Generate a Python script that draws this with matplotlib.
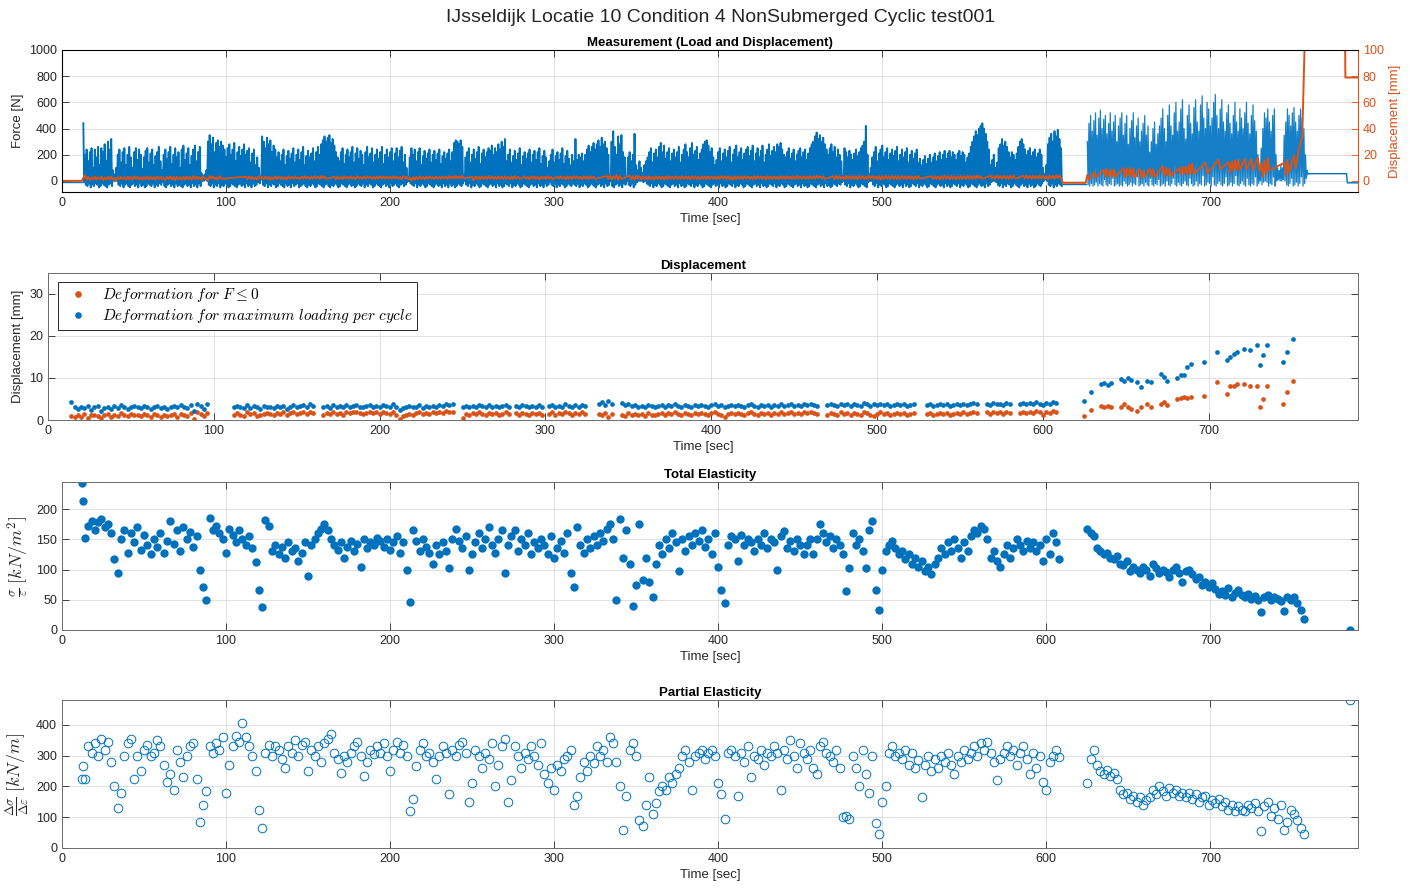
import numpy as np
import matplotlib
matplotlib.use('Agg')
import matplotlib.pyplot as plt

plt.rcParams['font.family'] = ['Liberation Sans', 'DejaVu Sans']
plt.rcParams['mathtext.fontset'] = 'cm'

BLUE = '#0072BD'
ORANGE = '#D95319'
nan = float('nan')

# ---- load signal, one cycle per second: peak and trough force [daN] ----
# part 1: t = 13 ... 609 s
force_peaks_1 = [
    44, 20, 24, 15, 22, 25, 10, 24, 18, 26, 12, 25, 22, 28, 15, 30, 24, 32, 8, 5,
    10, 20, 24, 14, 22, 25, 12, 20, 26, 18, 10, 22, 25, 16, 24, 20, 9, 18, 23, 25,
    14, 21, 24, 12, 19, 22, 26, 15, 8, 20, 24, 17, 22, 26, 13, 20, 25, 18, 22, 10,
    24, 27, 16, 21, 25, 12, 19, 24, 27, 15, 22, 26, 6, 4, 5, 8, 30, 35, 28, 33,
    22, 29, 31, 26, 30, 27, 24, 18, 25, 28, 20, 24, 29, 15, 22, 26, 19, 24, 28, 20,
    23, 25, 14, 21, 24, 12, 18, 10, 3, 34, 30, 25, 33, 28, 31, 22, 27, 24, 18, 22,
    15, 20, 24, 12, 19, 23, 17, 21, 25, 14, 20, 24, 16, 22, 26, 12, 19, 23, 18, 21,
    25, 15, 22, 26, 20, 28, 31, 34, 30, 33, 35, 29, 32, 27, 22, 18, 15, 22, 25, 13,
    20, 24, 18, 22, 26, 14, 21, 25, 17, 23, 20, 12, 22, 26, 18, 21, 25, 14, 20, 24,
    17, 22, 26, 13, 20, 24, 18, 22, 25, 15, 21, 25, 18, 23, 26, 14, 20, 10, 3, 18,
    25, 20, 24, 15, 22, 25, 12, 19, 23, 17, 21, 24, 14, 20, 23, 16, 21, 24, 13, 19,
    22, 17, 21, 24, 15, 22, 29, 31, 30, 28, 31, 26, 4, 18, 22, 25, 14, 20, 24, 17,
    22, 26, 13, 21, 24, 18, 22, 25, 23, 27, 20, 25, 22, 28, 24, 30, 26, 32, 15, 20,
    24, 14, 19, 23, 16, 21, 25, 12, 19, 22, 17, 21, 24, 14, 20, 23, 16, 22, 25, 13,
    19, 23, 18, 10, 15, 20, 24, 14, 19, 22, 16, 21, 25, 13, 19, 23, 17, 12, 20, 15,
    32, 16, 20, 18, 21, 15, 20, 24, 27, 22, 26, 29, 24, 28, 31, 26, 33, 28, 30, 25,
    20, 4, 30, 38, 26, 20, 34, 28, 35, 22, 18, 3, 18, 22, 15, 20, 36, 12, 8, 15,
    10, 6, 12, 15, 18, 22, 25, 14, 21, 24, 18, 26, 29, 22, 27, 17, 22, 25, 15, 21,
    24, 18, 22, 26, 14, 20, 24, 28, 22, 18, 25, 29, 20, 23, 26, 16, 21, 24, 28, 30,
    31, 27, 22, 25, 18, 12, 16, 22, 25, 15, 21, 24, 18, 23, 26, 14, 20, 24, 27, 18,
    22, 25, 16, 21, 24, 26, 19, 23, 27, 15, 21, 25, 18, 23, 27, 14, 20, 24, 28, 19,
    23, 26, 22, 28, 26, 29, 24, 20, 18, 22, 25, 17, 21, 24, 15, 20, 23, 25, 18, 22,
    24, 16, 21, 25, 28, 30, 34, 37, 32, 35, 30, 33, 28, 24, 20, 25, 28, 22, 26, 18,
    24, 20, 15, 4, 25, 22, 18, 23, 20, 16, 21, 24, 19, 22, 25, 27, 30, 42, 20, 5,
    10, 18, 22, 26, 15, 21, 24, 27, 18, 22, 25, 16, 21, 24, 19, 23, 26, 15, 20, 24,
    18, 22, 25, 14, 20, 23, 17, 21, 24, 14, 17, 12, 16, 19, 13, 17, 20, 14, 18, 21,
    15, 19, 22, 16, 20, 23, 17, 21, 23, 18, 22, 20, 16, 21, 23, 19, 22, 20, 14, 18,
    21, 26, 30, 34, 38, 35, 40, 42, 44, 40, 36, 30, 24, 12, 16, 20, 10, 14, 25, 28,
    32, 27, 30, 26, 22, 18, 22, 20, 16, 21, 26, 30, 32, 28, 24, 20, 23, 25, 19, 22,
    24, 18, 21, 24, 20, 10, 5, 12, 28, 33, 36, 30, 38, 34, 39, 32, 25,
]
force_troughs_1 = [
    -1, -3, -4, -2, -5, -3, -4, -2, -3, -5, -4, -2, -3, -4, -5, -3, -2, -4, 0, 0,
    0, -3, -4, -2, -5, -3, -2, -4, -5, -3, -2, -4, -3, -5, -2, -4, -3, -5, -4, -2,
    -3, -4, -2, -5, -3, -4, -2, -3, -1, -4, -5, -3, -2, -4, -3, -5, -2, -4, -3, -4,
    -5, -3, -2, -4, -3, -5, -2, -4, -3, -5, -2, -4, 0, 0, 1, 0, -3, -4, -2, -5,
    -3, -4, -2, -5, -3, -4, -2, -3, -5, -4, -2, -3, -4, -5, -3, -2, -4, -3, -5, -2,
    -4, -3, -5, -2, -4, -3, -1, -2, 1, -3, -4, -2, -5, -3, -4, -2, -3, -5, -4, -2,
    -3, -4, -5, -2, -4, -3, -5, -2, -4, -3, -2, -5, -4, -3, -2, -4, -5, -3, -4, -2,
    -3, -5, -4, -2, -3, -4, -5, -3, -2, -4, -5, -3, -4, -2, -3, -5, -4, -2, -3, -4,
    -5, -3, -2, -4, -3, -5, -4, -2, -3, -4, -2, -5, -3, -4, -2, -3, -5, -4, -2, -3,
    -4, -5, -3, -2, -4, -3, -5, -2, -4, -3, -2, -4, -5, -3, -2, -4, -3, -1, 0, -2,
    -3, -4, -2, -5, -3, -4, -2, -3, -5, -4, -2, -3, -4, -5, -3, -2, -4, -3, -5, -2,
    -4, -3, -5, -2, -4, -3, -5, -4, -2, -3, -4, -2, 0, -3, -4, -2, -5, -3, -4, -2,
    -3, -5, -4, -2, -3, -4, -5, -3, -2, -4, -3, -5, -2, -4, -3, -5, -4, -2, -3, -4,
    -2, -5, -3, -4, -2, -3, -5, -4, -2, -3, -4, -5, -3, -2, -4, -3, -5, -2, -4, -3,
    -5, -2, -4, -3, -1, -3, -4, -2, -5, -3, -4, -2, -3, -5, -4, -2, -3, -4, -2, -3,
    -4, -2, -5, -3, -4, -2, -3, -5, -4, -2, -3, -4, -5, -3, -2, -4, -3, -5, -2, -4,
    -3, 0, -4, -5, -3, -2, -4, -3, -5, -2, -3, 0, -3, -4, -2, -5, -3, -1, 0, 0,
    0, -1, 0, -2, -3, -4, -2, -5, -3, -4, -2, -3, -5, -4, -2, -3, -4, -5, -3, -2,
    -4, -3, -5, -2, -4, -3, -5, -4, -2, -3, -4, -2, -5, -3, -4, -2, -3, -5, -4, -2,
    -3, -4, -5, -3, -2, -4, -3, -5, -2, -4, -3, -5, -4, -2, -3, -4, -2, -5, -3, -4,
    -2, -3, -5, -4, -2, -3, -4, -5, -3, -2, -4, -3, -5, -2, -4, -3, -5, -4, -2, -3,
    -4, -2, -5, -3, -4, -2, -3, -5, -4, -2, -3, -4, -5, -3, -2, -4, -3, -5, -2, -4,
    -3, -5, -4, -2, -3, -4, -5, -3, -2, -4, -3, -5, -2, -4, -3, -5, -4, -2, -3, -4,
    -2, -3, -1, 0, -3, -4, -2, -5, -3, -4, -2, -3, -5, -4, -2, -3, -4, -5, -1, 0,
    0, -3, -4, -2, -5, -3, -4, -2, -3, -5, -4, -2, -3, -4, -5, -3, -2, -4, -3, -5,
    -2, -4, -3, -5, -4, -2, -3, -4, -2, -5, -3, -4, -2, -3, -5, -4, -2, -3, -4, -5,
    -3, -2, -4, -3, -5, -2, -4, -3, -5, -4, -2, -3, -4, -2, -5, -3, -4, -2, -3, -5,
    -4, -2, -3, -4, -5, -3, -2, -4, -3, -5, -2, -4, -3, -1, 0, 0, -1, -3, -4, -2,
    -5, -3, -4, -2, -3, -5, -4, -2, -3, -4, -5, -3, -2, -4, -3, -5, -2, -4, -3, -5,
    -4, -2, -3, -4, -2, 0, 1, 0, -3, -4, -2, -5, -3, -4, -2, -3, -4,
]
# part 2: t = 625 ... 759 s
force_peaks_2 = [
    30, 44, 50, 38, 46, 52, 35, 48, 54, 40, 47, 50, 36, 44, 52, 38, 45, 50, 30, 42,
    48, 52, 35, 44, 50, 28, 40, 46, 52, 33, 42, 48, 30, 38, 44, 50, 35, 42, 22, 30,
    40, 45, 28, 36, 42, 48, 55, 40, 30, 50, 58, 42, 35, 52, 60, 38, 45, 55, 62, 40,
    32, 50, 58, 44, 36, 56, 62, 45, 38, 58, 65, 48, 40, 60, 55, 42, 48, 60, 66, 50,
    40, 55, 62, 45, 38, 52, 58, 44, 36, 50, 60, 45, 38, 55, 48, 40, 52, 60, 44, 36,
    50, 58, 46, 38, 20, 12, 25, 40, 52, 48, 55, 45, 38, 50, 55, 20, 10, 8, 12, 10,
    35, 45, 55, 50, 42, 52, 56, 45, 38, 50, 55, 48, 40, 20, 8,
]
force_troughs_2 = [
    -3, -4, -2, -4, -3, -1, -4, -2, -3, -4, 1, -3, -4, -2, -3, 2, -4, -3, -2, -4,
    -3, -4, 0, -2, -4, -3, -1, -4, -2, -3, 3, -4, -3, -2, -4, -1, -3, -4, 2, -3,
    -4, -2, -3, 1, -4, -3, -2, -4, 0, -3, -4, -2, 2, -3, -4, -1, -3, -4, -2, 0,
    -3, -4, 2, -2, -4, -3, 0, -4, -2, -3, 4, -4, -3, -1, -2, -4, 3, -3, -4, -2,
    0, -3, -4, -2, 3, -4, -3, -1, -4, -2, 4, -3, -4, -2, 0, -3, -4, 2, -3, -4,
    -2, -3, 3, -4, -2, 0, -3, -1, 0, -1, -4, -2, -3, 3, -4, 0, 1, 0, 0, 1,
    0, -3, -4, -2, 2, -4, -3, -1, -4, -2, 3, -4, -2, 2, 5,
]
# idle stretches of the force signal (time [s], force [N])
idle_t = [0, 12.8, 610, 624.5, 760, 783, 783.5, 790]
idle_f = [-10, -10, -25, -25, 55, 55, -15, -15]
# displacement outside the cycles (time [s], displacement [mm])
disp_extra_t = [0, 12, 610, 624, 754, 756, 758, 782, 782.3, 790]
disp_extra_v = [0, 0, -1.5, -1.5, 25, 33, 130, 130, 79, 79]

# ---- per-cycle results ----
cycle_t = np.concatenate([[12, 13], np.arange(14, 609, 2), np.arange(625, 758, 2), [785]])

defo_max = [
    nan, nan,
    4.4, 3.0, 2.6, 3.2, 2.8, 3.4, 2.5, 3.0, 3.3, 2.2,
    2.8, 3.1, 2.6, 3.3, 2.9, 3.5, 3.0, 2.7, 3.2, 3.4,
    3.0, 2.8, 3.3, 3.1, 2.6, 3.2, 3.4, 2.9, 3.1, 2.7,
    3.2, 3.4, 3.0, 3.6, 3.2, 2.8, 3.5, 2.2, 3.8, 3.4,
    2.6, 3.8, nan, nan, nan, nan, nan, nan, nan, 3.2,
    3.4, 3.0, 2.8, 3.6, 2.9, 3.3, 3.1, 2.7, 3.4, 3.2,
    3.0, 2.8, 3.4, 3.1, 3.3, 2.7, 3.2, 3.5, 3.0, 3.3,
    3.6, 3.2, 3.8, 3.4, nan, nan, 3.0, 3.3, 2.9, 3.5,
    3.2, 3.4, 3.0, 3.6, 3.1, 3.3, 3.5, 3.2, 3.0, 3.4,
    3.6, 3.2, 3.4, 3.1, 3.5, 3.3, 3.0, 3.8, 3.2, 2.5,
    2.8, 3.1, 3.4, 3.0, 3.2, 3.5, 2.9, 3.3, 3.1, 3.4,
    3.2, 3.6, 3.4, 3.8, 3.5, 3.9, nan, nan, 3.0, 3.3,
    3.1, 3.4, 3.2, 3.6, 3.3, 3.0, 3.5, 3.2, 3.4, 3.1,
    3.3, 3.6, 3.2, nan, 3.4, 3.1, 3.5, 3.3, 3.0, 3.4,
    3.2, 3.5, 3.1, nan, 3.3, 3.6, 3.0, 3.4, 3.2, 3.7,
    3.4, 3.1, 3.5, 3.2, 3.6, 3.3, nan, nan, nan, 3.8,
    4.2, 3.5, 4.5, 3.8, nan, nan, 4.0, 3.6, 3.9, 3.4,
    3.6, 3.2, 3.4, 3.0, 3.5, 3.3, 3.1, 3.4, 3.6, 3.2,
    3.5, 3.3, 3.7, 3.4, 3.2, 3.6, 3.4, 3.1, 3.5, 3.3,
    3.6, 3.4, 3.2, 3.5, 3.8, 3.3, 3.6, 3.1, 3.4, 3.5,
    3.3, 3.6, 3.4, 3.2, 3.5, 3.7, 3.4, 3.2, 3.6, 3.3,
    3.5, 3.2, 3.6, 3.4, 3.7, 3.3, 3.5, 3.8, 3.4, 3.6,
    3.3, 3.7, 3.5, 3.9, 3.6, 3.4, nan, nan, 3.5, 3.8,
    3.6, 3.3, 3.9, 3.5, 3.7, 3.4, 3.8, 3.6, 3.3, 4.0,
    3.7, 3.4, 3.8, 3.6, 3.9, 3.5, 3.7, 3.4, 3.6, 3.8,
    3.5, 3.7, 3.4, 3.6, 3.8, nan, nan, nan, 3.5, 3.7,
    3.4, 3.6, 3.8, 3.5, 3.7, 3.3, 3.6, 3.8, 3.5, 3.9,
    3.6, 3.8, 4.0, 3.7, nan, nan, 3.9, 3.6, 4.1, 3.7,
    3.9, 3.6, 4.0, 3.8, nan, nan, 3.8, 4.1, 3.7, 4.0,
    3.8, 4.2, 3.9, 3.6, 4.1, 3.8, 4.4, 4.0,
    4.6, nan, 6.6, nan, nan, 8.6, 8.8, 8.4, 8.8, nan,
    nan, 9.8, 9.4, 10.0, 9.6, nan, 9.0, 7.8, nan, 9.4,
    9.0, nan, nan, 11.0, 10.2, 9.2, nan, nan, 10.0, 10.6,
    10.8, 12.6, 13.4, nan, nan, nan, 13.8, nan, nan, nan,
    16.2, nan, nan, 14.2, 15.0, 15.8, 16.2, nan, 17.0, nan,
    16.6, nan, 17.8, 13.0, 15.4, 17.8, nan, nan, nan, nan,
    13.8, 16.2, nan, 19.4, nan, nan, nan,
    nan,
]

defo_zero = [
    nan, nan,
    1.0, 0.6, 1.2, 0.8, 1.4, 0.5, 1.1, 1.3, 0.9, 0.4,
    1.2, 1.5, 0.8, 1.3, 1.0, 1.6, 1.2, 0.9, 1.4, 1.1,
    1.3, 0.9, 1.5, 1.2, 0.7, 1.4, 1.1, 0.6, 1.2, 0.9,
    1.1, 1.4, 0.8, 1.5, 1.2, 0.9, 1.6, 0.2, 1.8, 1.4,
    1.0, 1.6, nan, nan, nan, nan, nan, nan, nan, 1.2,
    1.6, 1.3, 1.0, 1.8, 1.4, 1.6, 0.9, 1.2, 1.5, 1.7,
    1.4, 1.2, 1.7, 1.5, 1.8, 1.3, 1.6, 1.9, 1.4, 1.7,
    1.9, 1.5, 2.0, 1.7, nan, nan, 1.2, 1.6, 1.4, 1.8,
    1.5, 1.7, 1.3, 1.9, 1.6, 1.8, 2.0, 1.6, 1.4, 1.7,
    1.9, 1.6, 1.8, 1.5, 1.9, 1.7, 1.4, 2.0, 1.2, 0.3,
    0.9, 1.2, 1.5, 1.3, 1.6, 1.8, 1.4, 1.7, 1.5, 1.8,
    1.6, 1.9, 1.7, 2.1, 1.8, 2.0, nan, nan, 0.5, 1.4,
    1.2, 1.6, 1.4, 1.8, 1.5, 1.2, 1.7, 1.4, 1.6, 1.3,
    1.5, 1.8, 1.4, nan, 1.6, 1.2, 1.7, 1.5, 1.1, 1.6,
    1.4, 1.7, 1.3, nan, 1.5, 1.8, 1.2, 1.6, 1.4, 1.9,
    1.6, 1.3, 1.7, 1.4, 1.8, 1.5, nan, nan, nan, 1.4,
    1.2, 1.7, 0.8, 1.5, nan, nan, 1.3, 0.9, 1.6, 1.2,
    1.5, 1.1, 1.4, 1.0, 1.6, 1.3, 1.1, 1.5, 1.7, 1.3,
    1.6, 1.4, 1.8, 1.5, 1.3, 1.7, 1.5, 1.2, 1.6, 1.4,
    1.7, 1.5, 1.3, 1.6, 1.9, 1.4, 1.2, 0.8, 1.5, 1.6,
    1.4, 1.7, 1.5, 1.3, 1.6, 1.8, 1.5, 1.3, 1.7, 1.4,
    1.6, 1.3, 1.7, 1.5, 1.8, 1.4, 1.6, 1.9, 1.5, 1.7,
    1.4, 1.8, 1.6, 2.0, 1.7, 1.5, nan, nan, 1.2, 1.7,
    1.5, 1.2, 1.8, 1.4, 1.6, 1.3, 1.7, 1.5, 1.2, 1.9,
    1.6, 1.3, 0.9, 1.5, 1.8, 1.4, 1.6, 1.3, 1.5, 1.7,
    1.4, 1.6, 1.3, 1.5, 1.7, nan, nan, nan, 1.4, 1.6,
    1.3, 1.5, 1.7, 1.4, 1.6, 1.2, 1.5, 1.7, 1.4, 1.8,
    1.5, 1.7, 1.9, 1.6, nan, nan, 1.8, 1.5, 2.0, 1.6,
    1.8, 1.5, 1.9, 1.7, nan, nan, 1.7, 2.0, 1.6, 1.9,
    1.7, 2.1, 1.8, 1.3, 2.0, 1.7, 2.2, 1.9,
    1.0, nan, 2.4, nan, nan, 3.4, 3.2, 3.4, 3.0, nan,
    nan, 3.0, 3.8, 3.2, 2.6, nan, 2.2, 3.0, nan, 3.8,
    3.0, nan, nan, 3.8, 4.2, 3.6, nan, nan, 5.0, 5.2,
    5.4, 5.2, 5.4, nan, nan, nan, 5.6, nan, nan, nan,
    9.0, nan, nan, 6.2, 8.2, 8.0, 8.6, nan, 8.6, nan,
    8.0, nan, 8.0, 3.0, 5.0, 8.0, nan, nan, nan, nan,
    3.8, 6.6, nan, 9.4, nan, nan, nan,
    nan,
]

elast_total = [
    244, 214,
    152, 172, 180, 165, 178, 183, 170, 176, 160, 118,
    95, 150, 165, 128, 160, 145, 170, 132, 158, 140,
    125, 150, 138, 160, 128, 148, 180, 142, 165, 130,
    170, 150, 162, 138, 155, 100, 72, 50, 185, 165,
    172, 160, 150, 128, 168, 158, 145, 165, 150, 140,
    155, 135, 112, 66, 38, 182, 172, 130, 140, 125,
    138, 120, 145, 130, 135, 114, 128, 145, 90, 140,
    150, 160, 168, 175, 165, 150, 140, 132, 145, 120,
    138, 148, 130, 142, 104, 150, 135, 145, 140, 152,
    148, 138, 150, 132, 145, 155, 128, 145, 100, 47,
    165, 148, 130, 150, 138, 128, 110, 140, 125, 145,
    130, 102, 150, 168, 148, 135, 155, 100, 125, 145,
    160, 135, 150, 170, 140, 128, 150, 165, 95, 140,
    155, 165, 130, 150, 140, 160, 125, 145, 135, 150,
    140, 125, 155, 120, 135, 148, 128, 160, 94, 72,
    170, 140, 128, 150, 135, 155, 140, 160, 148, 168,
    175, 150, 50, 183, 120, 165, 110, 40, 75, 175,
    82, 120, 80, 55, 110, 140, 125, 150, 135, 160,
    145, 97, 150, 130, 155, 140, 160, 148, 165, 138,
    150, 125, 160, 105, 67, 44, 140, 155, 150, 115,
    158, 140, 150, 145, 130, 150, 140, 160, 135, 150,
    145, 100, 155, 164, 135, 148, 130, 150, 140, 125,
    140, 150, 125, 150, 175, 160, 145, 155, 135, 150,
    140, 125, 64, 103, 161, 140, 150, 130, 103, 165,
    180, 67, 33, 100, 130, 140, 147, 135, 125, 130,
    118, 125, 110, 120, 105, 115, 98, 105, 92, 110,
    120, 135, 125, 145, 130, 150, 135, 120, 145, 130,
    155, 165, 160, 172, 168, 150, 120, 130, 115, 105,
    125, 140, 120, 135, 150, 140, 130, 148, 135, 145,
    130, 140, 115, 150, 125, 160, 145, 117,
    168, 160, 155, 135, 130, 125, 128, 120, 118, 122,
    110, 108, 115, 98, 105, 100, 95, 105, 100, 90,
    110, 102, 95, 100, 96, 88, 100, 105, 95, 80,
    98, 100, 92, 85, 88, 75, 80, 72, 78, 68,
    60, 65, 58, 70, 55, 62, 66, 58, 55, 60,
    52, 56, 50, 30, 55, 58, 50, 55, 52, 48,
    32, 55, 50, 54, 45, 33, 19,
    0,
]

elast_partial = [
    225, 265,
    225, 330, 310, 340, 300, 355, 320, 345, 280, 200,
    130, 180, 300, 340, 355, 225, 300, 250, 320, 335,
    300, 310, 350, 330, 270, 215, 240, 190, 320, 280,
    230, 300, 330, 340, 225, 85, 140, 185, 330, 310,
    340, 320, 360, 180, 270, 330, 365, 345, 405, 360,
    330, 300, 250, 125, 65, 310, 335, 300, 330, 320,
    290, 260, 330, 310, 350, 300, 335, 345, 250, 320,
    300, 330, 280, 340, 355, 370, 310, 290, 245, 300,
    280, 310, 330, 345, 300, 235, 280, 320, 305, 330,
    310, 340, 300, 250, 320, 345, 310, 335, 300, 120,
    160, 265, 320, 340, 300, 310, 280, 225, 300, 330,
    310, 175, 320, 300, 335, 345, 310, 150, 210, 320,
    300, 260, 310, 290, 340, 200, 270, 330, 355, 150,
    220, 330, 300, 260, 310, 290, 330, 300, 270, 340,
    240, 210, 260, 190, 270, 250, 290, 300, 320, 140,
    170, 230, 280, 250, 300, 275, 330, 300, 320, 280,
    360, 340, 280, 200, 60, 170, 320, 340, 300, 90,
    70, 140, 230, 110, 145, 185, 200, 190, 230, 210,
    240, 260, 300, 320, 280, 190, 300, 310, 320, 290,
    310, 320, 300, 210, 175, 95, 310, 320, 300, 170,
    310, 280, 330, 230, 300, 290, 320, 270, 310, 300,
    330, 310, 190, 320, 290, 350, 300, 260, 340, 310,
    290, 320, 260, 240, 330, 345, 310, 300, 280, 320,
    260, 100, 105, 95, 300, 260, 200, 320, 240, 180,
    300, 80, 45, 150, 200, 310, 330, 300, 310, 290,
    320, 270, 310, 260, 285, 165, 270, 300, 250, 290,
    260, 300, 280, 310, 270, 240, 300, 280, 320, 290,
    310, 330, 300, 340, 320, 345, 310, 280, 220, 290,
    310, 330, 300, 320, 270, 310, 330, 290, 240, 310,
    260, 300, 215, 190, 280, 300, 320, 295,
    210, 290, 320, 270, 250, 240, 255, 235, 245, 225,
    190, 175, 180, 160, 170, 150, 165, 140, 155, 165,
    190, 175, 200, 185, 170, 195, 180, 190, 170, 180,
    165, 180, 160, 175, 150, 165, 170, 140, 155, 145,
    160, 135, 150, 125, 140, 120, 135, 125, 120, 140,
    130, 145, 120, 55, 135, 150, 105, 130, 95, 140,
    60, 85, 125, 110, 90, 65, 45,
    480,
]


def cycle_line(t0, peaks, troughs):
    # peak at the start of every second, trough half a second later
    n = min(len(peaks), len(troughs))
    t = t0 + np.arange(n)
    x = np.column_stack([t, t + 0.5]).ravel()
    y = np.column_stack([peaks[:n], troughs[:n]]).ravel() * 10.0
    return x, y


x1, y1 = cycle_line(13, force_peaks_1, force_troughs_1)
x2, y2 = cycle_line(625, force_peaks_2, force_troughs_2)

n = min(len(cycle_t), len(defo_max), len(defo_zero), len(elast_total), len(elast_partial))
cycle_t = cycle_t[:n]
d_max = np.array(defo_max[:n])
d_zero = np.array(defo_zero[:n])
e_tot = np.array(elast_total[:n])
e_par = np.array(elast_partial[:n])

ok = np.isfinite(d_max) & np.isfinite(d_zero)
disp_t = np.concatenate([np.column_stack([cycle_t[ok], cycle_t[ok] + 1]).ravel(), disp_extra_t])
disp_v = np.concatenate([np.column_stack([d_max[ok], d_zero[ok]]).ravel(), disp_extra_v])
order = np.argsort(disp_t, kind='stable')
disp_t, disp_v = disp_t[order], disp_v[order]

# ---- figure ----
fig = plt.figure(figsize=(14.1, 8.91), dpi=100)
W, H = 1410.0, 891.0


def box(l, t, r, b):
    return [l / W, 1 - b / H, (r - l) / W, (b - t) / H]


ax1 = fig.add_axes(box(62, 50, 1358, 192))
ax2 = fig.add_axes(box(48, 273, 1358, 420))
ax3 = fig.add_axes(box(62, 482, 1358, 630))
ax4 = fig.add_axes(box(62, 700, 1358, 848))

for ax in (ax1, ax2, ax3, ax4):
    ax.set_xlim(0, 790)
    ax.set_xticks(range(0, 701, 100))
    ax.grid(True, color='#dcdcdc', lw=0.6)
    ax.set_axisbelow(True)
    ax.tick_params(direction='in', top=True, right=True, labelsize=9,
                   colors='#262626', length=5, width=0.6)
    for s in ax.spines.values():
        s.set_color('#6e6e6e')
        s.set_linewidth(0.7)
    ax.set_xlabel('Time [sec]', fontsize=9.5, color='#262626', labelpad=3)

# Measurement
ax1.plot(idle_t[:2], idle_f[:2], color=BLUE, lw=1.0)
ax1.plot(x1, y1, color=BLUE, lw=1.35)
ax1.plot(idle_t[2:4], idle_f[2:4], color=BLUE, lw=1.0)
ax1.plot(x2, y2, color='#1580c8', lw=0.9)
ax1.plot(idle_t[4:], idle_f[4:], color=BLUE, lw=1.0)
ax1.set_ylim(-85, 1000)
ax1.set_yticks(range(0, 1001, 200))
ax1.set_ylabel('Force [N]', fontsize=9.5, color='#262626')
ax1.tick_params(right=False)
ax1.set_title('Measurement (Load and Displacement)', fontsize=9.5, fontweight='bold', pad=3)
ax1r = ax1.twinx()
ax1r.plot(disp_t, disp_v, color=ORANGE, lw=1.4)
ax1r.set_ylim(-8.5, 100)
ax1r.set_yticks(range(0, 101, 20))
ax1r.tick_params(direction='in', colors=ORANGE, labelsize=9, length=5, width=0.6)
ax1r.spines['right'].set_color(ORANGE)
ax1r.set_ylabel('Displacement [mm]', fontsize=9.5, color=ORANGE)

# Displacement
ax2.plot(cycle_t, d_zero, 'o', color=ORANGE, ms=3.4, mew=0,
         label=r'$Deformation\ for\ F \leq 0$')
ax2.plot(cycle_t, d_max, 'o', color=BLUE, ms=3.4, mew=0,
         label=r'$Deformation\ for\ maximum\ loading\ per\ cycle$')
ax2.set_ylim(0, 35)
ax2.set_yticks([0, 10, 20, 30])
ax2.set_ylabel('Displacement [mm]', fontsize=9.5, color='#262626')
ax2.set_title('Displacement', fontsize=9.5, fontweight='bold', pad=3)
leg = ax2.legend(loc='upper left', bbox_to_anchor=(0.0076, 0.94), borderaxespad=0,
                 fontsize=11, fancybox=False, framealpha=1, edgecolor='#262626',
                 handletextpad=0.6, borderpad=0.3, labelspacing=0.2, markerscale=1.4)
leg.get_frame().set_linewidth(0.7)

# Total elasticity
ax3.plot(cycle_t, e_tot, 'o', color=BLUE, ms=6.0, mew=0)
ax3.set_ylim(0, 245)
ax3.set_yticks(range(0, 201, 50))
ax3.set_ylabel(r'$\frac{\sigma}{\varepsilon}\;[kN/m^2]$', fontsize=13, color='#262626')
ax3.set_title('Total Elasticity', fontsize=9.5, fontweight='bold', pad=3)

# Partial elasticity
ax4.plot(cycle_t, e_par, 'o', mfc='none', mec=BLUE, ms=6.2, mew=0.7)
ax4.set_ylim(0, 481)
ax4.set_yticks(range(0, 401, 100))
ax4.set_ylabel(r'$\frac{\Delta\sigma}{\Delta\varepsilon}\;[kN/m]$', fontsize=13, color='#262626')
ax4.set_title('Partial Elasticity', fontsize=9.5, fontweight='bold', pad=3)

fig.text(0.511, 1 - 18 / H, 'IJsseldijk Locatie 10 Condition 4 NonSubmerged Cyclic test001',
         ha='center', va='center', fontsize=14, color='#262626')

fig.savefig('out.png', dpi=100)
